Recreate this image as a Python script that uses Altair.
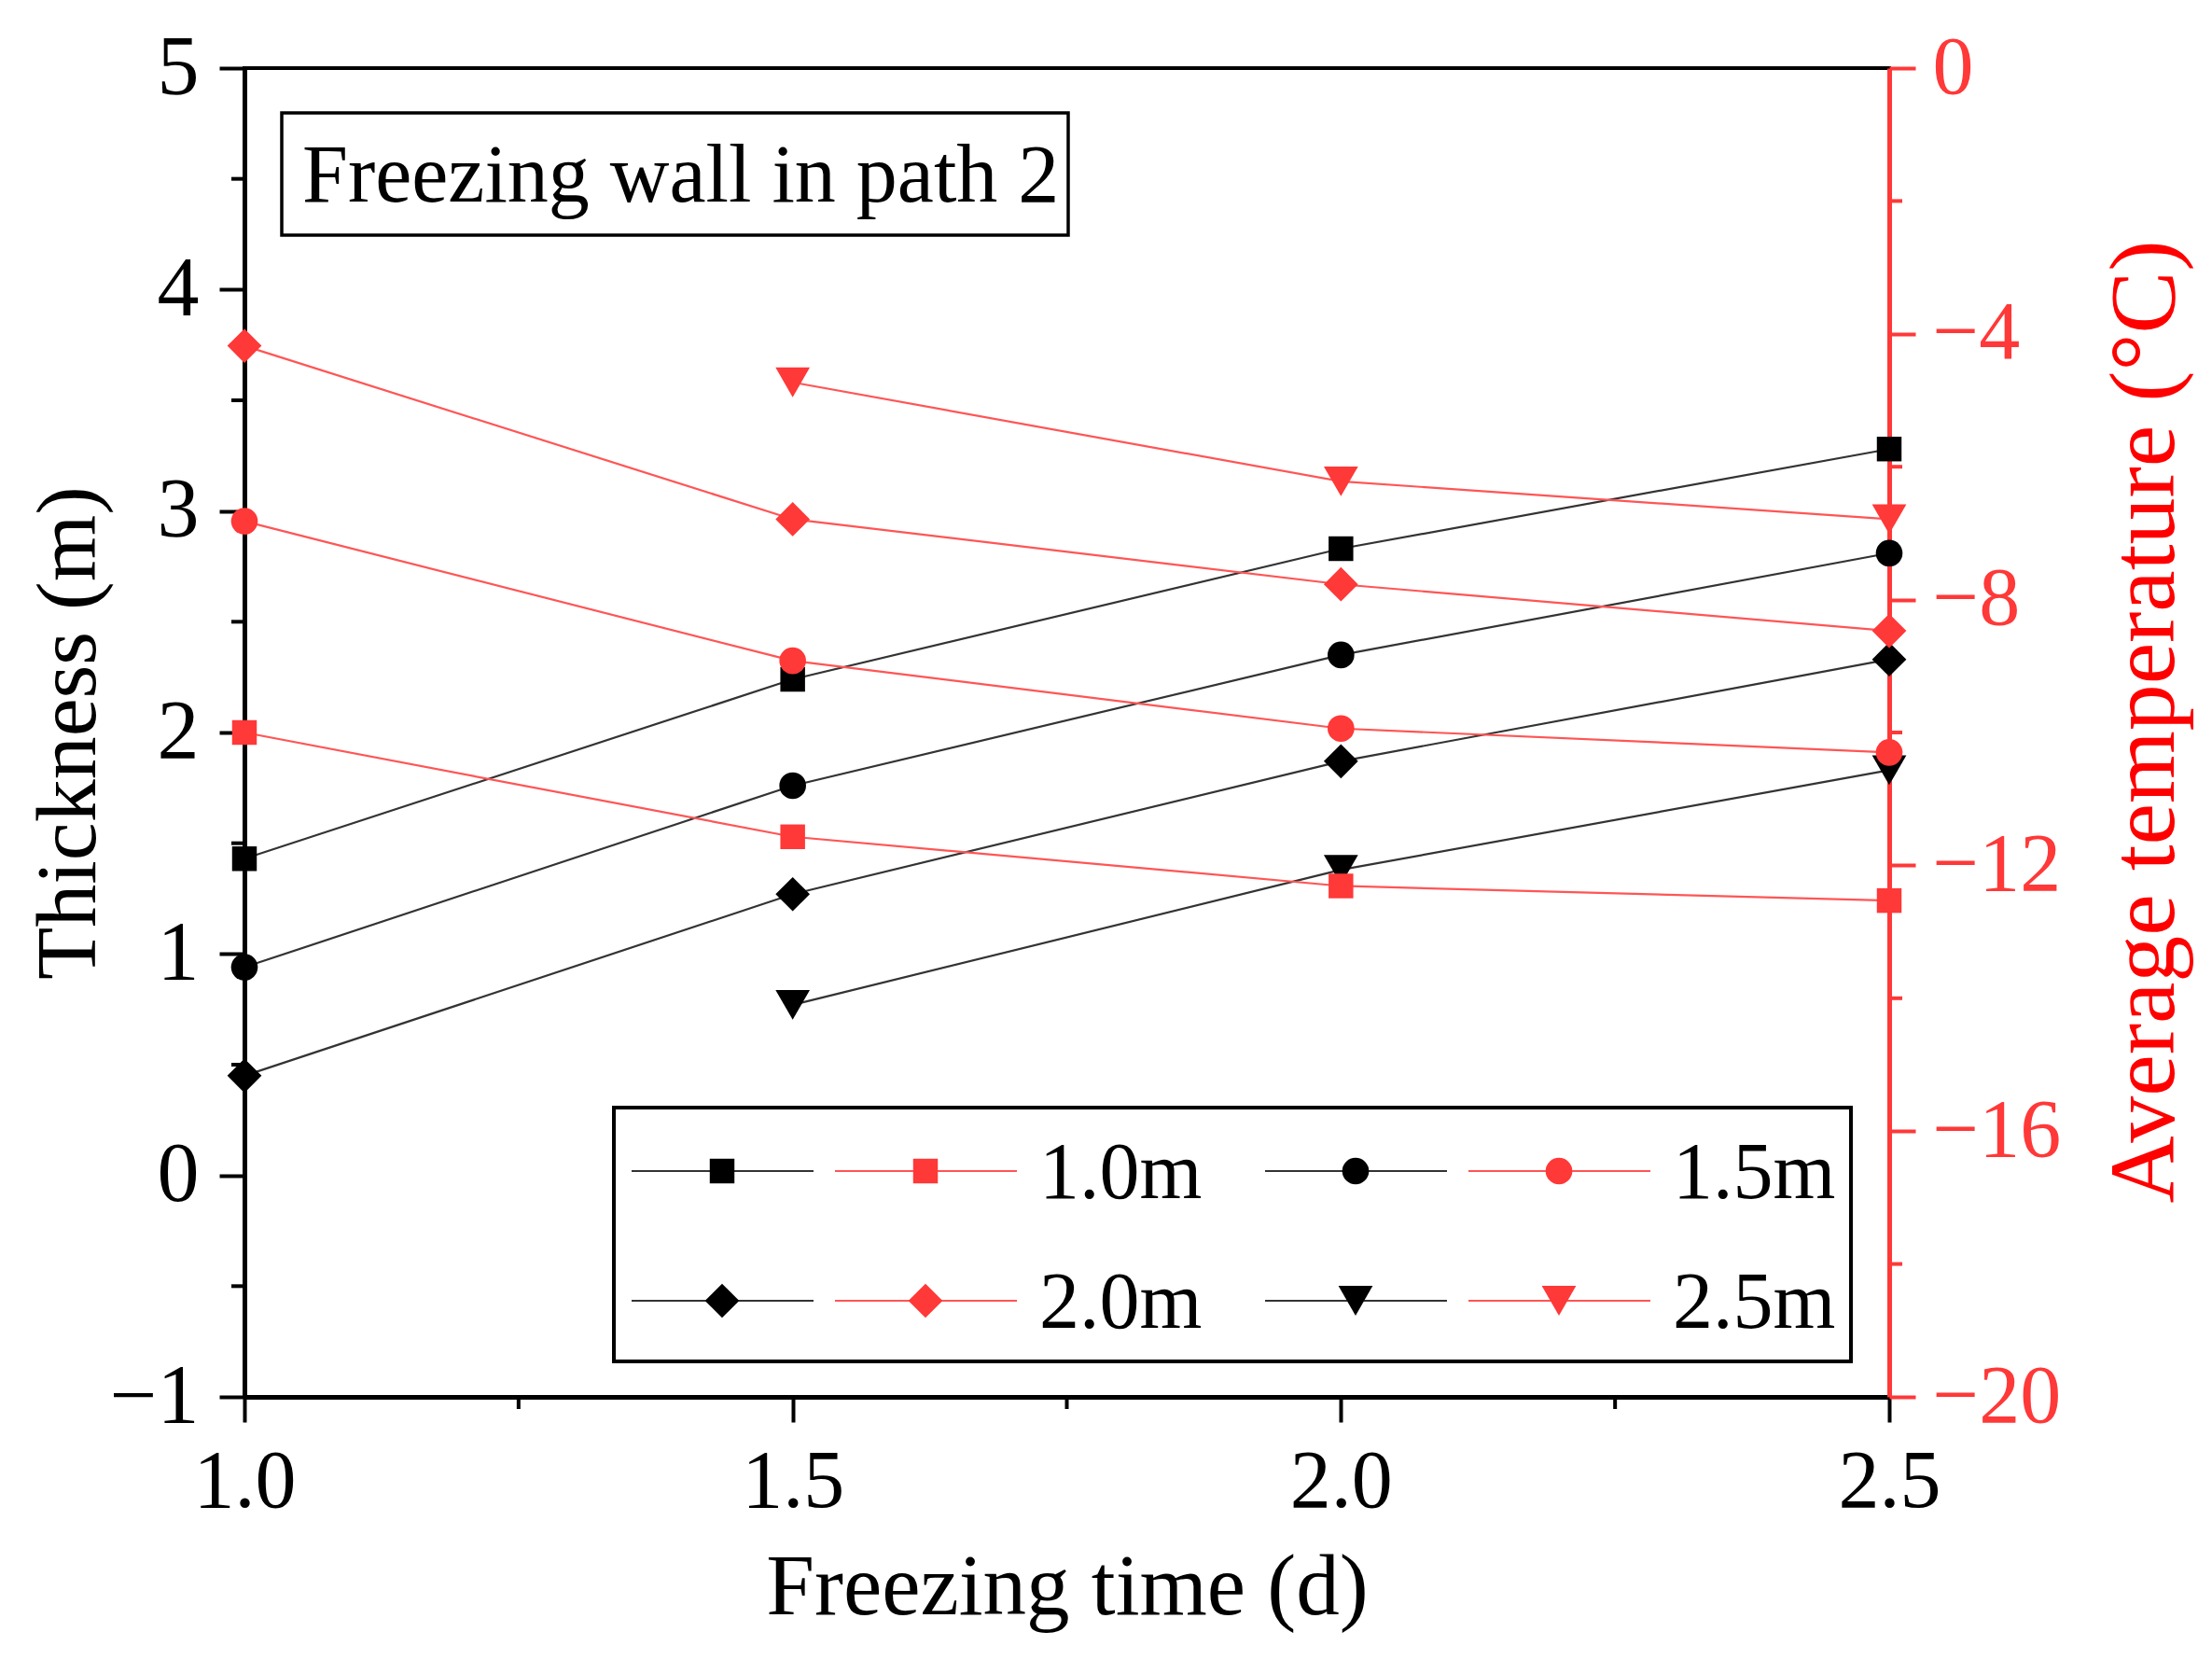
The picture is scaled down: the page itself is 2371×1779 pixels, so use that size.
import altair as alt
import pandas as pd

# ---------------- data ----------------
times = [1.0, 1.5, 2.0, 2.5]
spacings = ["1.0m", "1.5m", "2.0m", "2.5m"]

thickness_10 = [1.43, 2.24, 2.83, 3.28]
thickness_15 = [0.94, 1.76, 2.35, 2.81]
thickness_20 = [0.45, 1.27, 1.87, 2.33]
thickness_25 = [None, 0.77, 1.38, 1.83]

temp_10 = [-10.0, -11.57, -12.31, -12.53]
temp_15 = [-6.82, -8.92, -9.94, -10.30]
temp_20 = [-4.18, -6.79, -7.77, -8.47]
temp_25 = [None, -4.73, -6.22, -6.79]

x_ticks = [1.0, 1.5, 2.0, 2.5]
x_minor = [1.25, 1.75, 2.25]
y_ticks = [-1, 0, 1, 2, 3, 4, 5]
y_minor = [-0.5, 0.5, 1.5, 2.5, 3.5, 4.5]
t_ticks = [0, -4, -8, -12, -16, -20]
t_minor = [-2, -6, -10, -14, -18]

thick_series = [thickness_10, thickness_15, thickness_20, thickness_25]
temp_series = [temp_10, temp_15, temp_20, temp_25]

rows_th, rows_tp = [], []
for s, th, tp in zip(spacings, thick_series, temp_series):
    for t, a, b in zip(times, th, tp):
        if a is not None:
            rows_th.append({"time": t, "thickness": a, "series": s})
        if b is not None:
            rows_tp.append({"time": t, "temp": b, "series": s})
df_th = pd.DataFrame(rows_th)
df_tp = pd.DataFrame(rows_tp)

# ---------------- styles / layout ----------------
W, H = 1763, 1424
FONT = "Liberation Serif"
RED = "#FF3838"
RED_LINE = "#FF5555"
BLACK_LINE = "#333333"
shapes = ["square", "circle", "diamond", "triangle-down"]
sizes = [700, 820, 1350, 1350]

x_axis = alt.Axis(values=x_ticks, format=".1f", title="Freezing time (d)",
                  tickSize=27, tickWidth=4, tickColor="black",
                  domainColor="black", domainWidth=5,
                  labelFontSize=88, labelPadding=20, labelColor="black",
                  titleFontSize=93, titleColor="black",
                  titleX=W / 2, titleY=232, titleBaseline="alphabetic",
                  labelFlush=False, grid=False)
th_axis = alt.Axis(values=y_ticks, format="d", title="Thickness (m)",
                   tickSize=27, tickWidth=4, tickColor="black",
                   domainColor="black", domainWidth=5,
                   labelFontSize=90, labelPadding=22, labelColor="black",
                   titleFontSize=92, titleColor="black", titleAngle=270,
                   titleX=-189, titleY=H / 2, titleBaseline="middle",
                   labelFlush=False, grid=False)
tp_axis = alt.Axis(orient="right", values=t_ticks, format="d",
                   title="Average temperature (°C)",
                   tickSize=28, tickWidth=4, tickColor=RED,
                   domainColor=RED, domainWidth=5,
                   labelFontSize=88, labelPadding=18, labelColor=RED,
                   titleFontSize=100, titleColor="#FF0000", titleAngle=270,
                   titleX=274, titleY=700, titleBaseline="middle",
                   labelFlush=False, grid=False)

x_scale = alt.Scale(domain=[1.0, 2.5], nice=False, zero=False)
th_scale = alt.Scale(domain=[-1, 5], nice=False, zero=False)
tp_scale = alt.Scale(domain=[-20, 0], nice=False, zero=False)


def X(field="time"):
    return alt.X(f"{field}:Q", scale=x_scale, axis=x_axis)


def YT():
    return alt.Y("thickness:Q", scale=th_scale, axis=th_axis)


def YP():
    return alt.Y("temp:Q", scale=tp_scale, axis=tp_axis)


# ---------------- left (thickness) layers ----------------
black_lines = alt.Chart(df_th).mark_line(color=BLACK_LINE, strokeWidth=2.2).encode(
    x=X(), y=YT(), detail="series:N")
black_pts = [
    alt.Chart(df_th).transform_filter(alt.datum.series == s).mark_point(
        filled=True, opacity=1, color="black", shape=shp, size=sz).encode(x=X(), y=YT())
    for s, shp, sz in zip(spacings, shapes, sizes)
]

y_minor_df = pd.DataFrame({"thickness": y_minor})
y_minor_rules = alt.Chart(y_minor_df).mark_rule(color="black", strokeWidth=4).encode(
    y=YT(), x=alt.value(0), x2=alt.value(-14))

x_minor_df = pd.DataFrame({"time": x_minor})
x_minor_rules = alt.Chart(x_minor_df).mark_rule(color="black", strokeWidth=4).encode(
    x=X(), y=alt.value(H), y2=alt.value(H + 13))

one = pd.DataFrame({"a": [0]})

# annotation box
ann_box = alt.Chart(one).mark_rect(fill="white", stroke="black", strokeWidth=3.5).encode(
    x=alt.value(40), x2=alt.value(883), y=alt.value(48), y2=alt.value(179))
ann_text = alt.Chart(one).mark_text(text="Freezing wall in path 2", font=FONT, fontSize=88,
                                    align="left", baseline="alphabetic", color="black").encode(
    x=alt.value(62), y=alt.value(143))

# legend
leg_layers = [alt.Chart(one).mark_rect(fill="white", stroke="black", strokeWidth=4).encode(
    x=alt.value(396), x2=alt.value(1722), y=alt.value(1114), y2=alt.value(1386))]
row_y = [1182, 1321]
col_x = [415, 1094]
for i, s in enumerate(spacings):
    ry = row_y[i // 2]
    cx = col_x[i % 2]
    for j, (lc, mc) in enumerate([(BLACK_LINE, "black"), (RED_LINE, RED)]):
        x0 = cx + j * 218
        leg_layers.append(alt.Chart(one).mark_rule(color=lc, strokeWidth=2.2).encode(
            x=alt.value(x0), x2=alt.value(x0 + 195), y=alt.value(ry)))
        leg_layers.append(alt.Chart(one).mark_point(
            filled=True, opacity=1, color=mc, shape=shapes[i], size=sizes[i]).encode(
            x=alt.value(x0 + 97), y=alt.value(ry)))
    leg_layers.append(alt.Chart(one).mark_text(
        text=s, font=FONT, fontSize=86, align="left", baseline="middle", color="black").encode(
        x=alt.value(cx + 437), y=alt.value(ry + 3)))

left = alt.layer(black_lines, y_minor_rules, x_minor_rules, ann_box, ann_text,
                 *leg_layers, *black_pts)

# ---------------- right (temperature) layers ----------------
red_lines = alt.Chart(df_tp).mark_line(color=RED_LINE, strokeWidth=2.2).encode(
    x=X(), y=YP(), detail="series:N")
red_pts = [
    alt.Chart(df_tp).transform_filter(alt.datum.series == s).mark_point(
        filled=True, opacity=1, color=RED, shape=shp, size=sz).encode(x=X(), y=YP())
    for s, shp, sz in zip(spacings, shapes, sizes)
]
t_minor_df = pd.DataFrame({"temp": t_minor})
t_minor_rules = alt.Chart(t_minor_df).mark_rule(color=RED, strokeWidth=4).encode(
    y=YP(), x=alt.value(W), x2=alt.value(W + 14))

right = alt.layer(red_lines, t_minor_rules, *red_pts)

chart = alt.layer(left, right).resolve_scale(y="independent").properties(
    width=W, height=H,
    autosize=alt.AutoSizeParams(type="none"),
    padding={"left": 254, "top": 65, "right": 330, "bottom": 270},
    background="white",
).configure_axis(
    labelFont=FONT, titleFont=FONT, grid=False, titleFontWeight="normal",
).configure_view(stroke="black", strokeWidth=4)

chart.save("out.html", embed_options={"renderer": "svg", "actions": False})
